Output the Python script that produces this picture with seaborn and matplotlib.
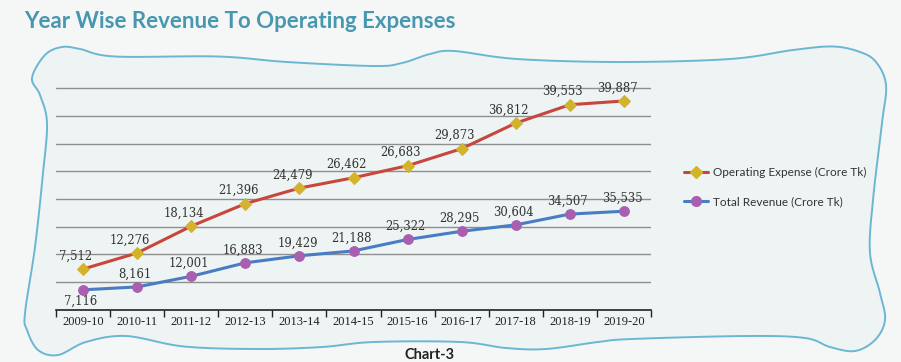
import numpy as np
import pandas as pd
import seaborn as sns
import matplotlib.pyplot as plt
from matplotlib.lines import Line2D

# data
years = ['2009-10', '2010-11', '2011-12', '2012-13', '2013-14', '2014-15',
         '2015-16', '2016-17', '2017-18', '2018-19', '2019-20']
operating_expense = [7512, 12276, 18134, 21396, 24479, 26462, 26683, 29873, 36812, 39553, 39887]
total_revenue = [7116, 8161, 12001, 16883, 19429, 21188, 25322, 28295, 30604, 34507, 35535]

sns.set_theme(style='white')
plt.rcParams['font.family'] = ['Liberation Serif', 'DejaVu Serif']

W, H = 901, 362
fig = plt.figure(figsize=(W / 100, H / 100), dpi=100)
fig.patch.set_facecolor('#f5f7f6')


def smooth_closed(pts, n=16):
    # closed catmull-rom curve through the outline points
    p = np.array(pts, float)
    t = np.linspace(0, 1, n, endpoint=False)[:, None]
    out = []
    for i in range(len(p)):
        p0, p1, p2, p3 = p[i - 1], p[i], p[(i + 1) % len(p)], p[(i + 2) % len(p)]
        out.append(0.5 * (2 * p1 + (-p0 + p2) * t + (2 * p0 - 5 * p1 + 4 * p2 - p3) * t ** 2
                          + (-p0 + 3 * p1 - 3 * p2 + p3) * t ** 3))
    return np.vstack(out)


blob = [(32, 78), (45, 55), (62, 47), (80, 49), (115, 56.5), (218, 56.5), (287, 62), (374, 66),
        (402, 63), (430, 54), (454, 51), (517, 59), (621, 62), (730, 59), (793, 50), (833, 46.5),
        (860, 52), (876, 62), (886, 85), (882, 123), (873, 200), (870, 253), (880, 293), (885, 320),
        (875, 340), (855, 351), (830, 347), (805, 338), (747, 336), (632, 339), (598, 342),
        (546, 349), (506, 348), (460, 342), (374, 342), (322, 347), (259, 349), (184, 346.5),
        (126, 336), (86, 342), (58, 355), (38, 350), (27, 330), (25, 313), (35, 247), (43, 173),
        (47, 123), (40, 95)]
bg = fig.add_axes([0, 0, 1, 1])
bg.set_xlim(0, W)
bg.set_ylim(H, 0)
bg.axis('off')
xy = smooth_closed(blob)
bg.fill(xy[:, 0], xy[:, 1], facecolor='#eef3f3', edgecolor='#6bb7d3', lw=1.4)

# main plot area
px = 221.2 / 80000
ax = fig.add_axes([56 / W, 1 - 309.5 / H, (651 - 56) / W, 82000 * px / H])
ax.patch.set_alpha(0)

df = pd.DataFrame({'year': years, 'expense': operating_expense, 'revenue': total_revenue})
# stacked line chart: expense line sits on top of revenue
df['expense_top'] = df['revenue'] + df['expense']

sns.lineplot(data=df, x='year', y='expense_top', ax=ax, color='#c8463c', lw=2.2,
             marker='D', ms=6.5, mfc='#d3b22c', mec='#d3b22c', legend=False, zorder=3)
sns.lineplot(data=df, x='year', y='revenue', ax=ax, color='#4a7cc3', lw=2.2,
             marker='o', ms=7, mfc='#a95fb0', mec='#a95fb0', legend=False, zorder=3)

ax.set_xlim(-0.5, len(years) - 0.5)
ax.set_ylim(0, 82000)
ax.set_yticks(range(10000, 80001, 10000))
ax.yaxis.grid(True, color='#8f8f8f', lw=1)
ax.tick_params(axis='y', length=0, labelleft=False)
ax.set_xticks(range(len(years)))
ax.set_xticklabels(years, fontsize=9, color='#222222')
ax.set_xticks(np.arange(-0.5, len(years), 1), minor=True)
ax.tick_params(axis='x', which='major', length=0, pad=5)
ax.tick_params(axis='x', which='minor', length=5, width=1, color='#222222', bottom=True, direction='out')
ax.set_xlabel('')
ax.set_ylabel('')
for s in ['top', 'right', 'left']:
    ax.spines[s].set_visible(False)
ax.spines['bottom'].set_color('#222222')
ax.spines['bottom'].set_linewidth(1.2)

lab = dict(textcoords='offset pixels', ha='center', va='center', fontsize=8.4,
           color='#333333', family='DejaVu Serif')
for i, row in df.iterrows():
    ax.annotate(f"{row['expense']:,}", (i, row['expense_top']), xytext=(-7, 13), **lab)
    dy = -11 if i == 0 else 13
    ax.annotate(f"{row['revenue']:,}", (i, row['revenue']), xytext=(-2, dy), **lab)

handles = [Line2D([], [], color='#c8463c', lw=2.2, marker='D', ms=6.5, mfc='#d3b22c', mec='#d3b22c'),
           Line2D([], [], color='#4a7cc3', lw=2.2, marker='o', ms=7, mfc='#a95fb0', mec='#a95fb0')]
fig.legend(handles, ['Operating Expense (Crore Tk)', 'Total Revenue (Crore Tk)'],
           loc='upper left', bbox_to_anchor=(684 / W, 1 - 167 / H), frameon=False,
           borderpad=0, borderaxespad=0, handlelength=2.0, handletextpad=0.45,
           labelspacing=1.55, prop={'family': 'Lato', 'size': 8.5}, labelcolor='#333333')

fig.text(24 / W, 1 - 21 / H, 'Year Wise Revenue To Operating Expenses', family='Lato',
         weight='bold', fontsize=16, color='#4797b1', va='center', ha='left')
fig.text(430 / W, 1 - 359 / H, 'Chart-3', family='Lato', weight='bold', fontsize=10.5,
         color='#222222', va='baseline', ha='center')

fig.savefig('out.png', dpi=100, facecolor=fig.get_facecolor())
